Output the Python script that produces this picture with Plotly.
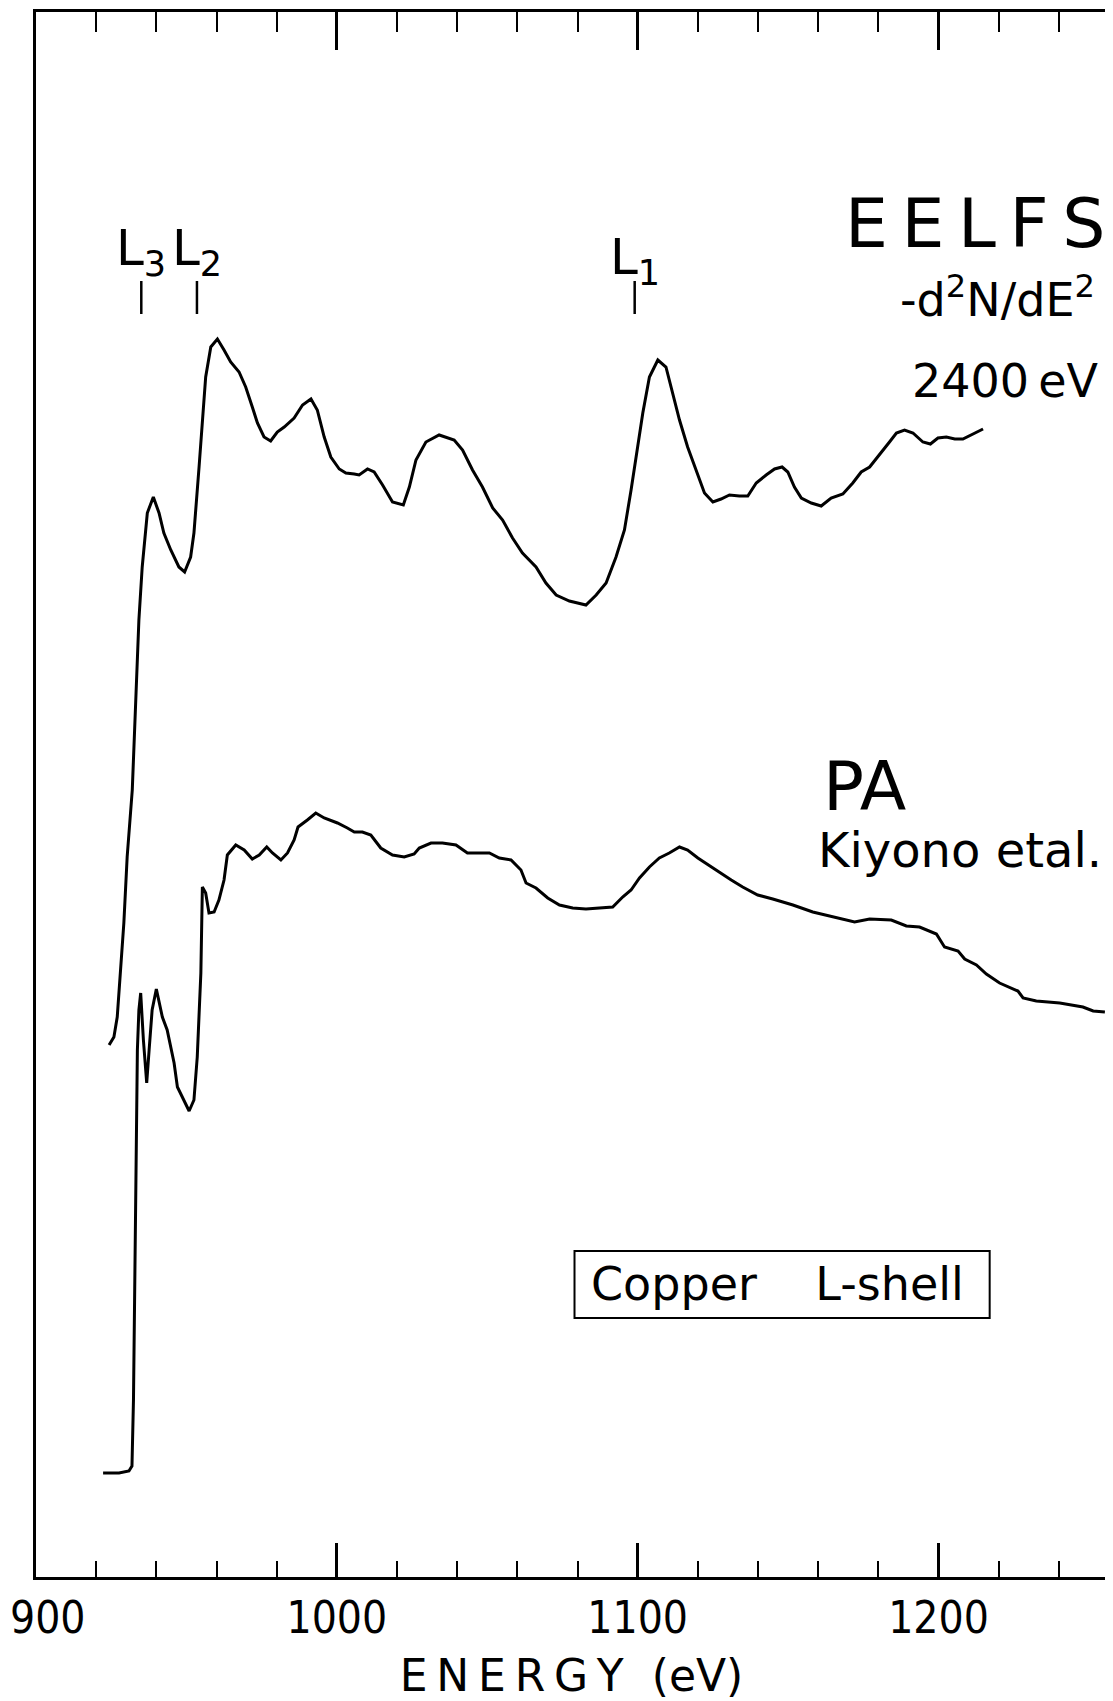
import plotly.graph_objects as go

# --- data (intensity in arbitrary units) ---

# EELFS, -d2N/dE2, 2400 eV primary energy
eelfs_energy = [924.3, 925.9, 927.0, 928.1, 929.2, 930.3, 931.5, 932.0, 933.1, 934.2,
                935.3, 937.0, 939.0, 940.9, 942.5, 944.8, 947.5, 949.4, 951.4, 952.5,
                954.2, 955.3, 956.4, 958.1, 960.3, 962.5, 964.7, 967.5, 969.7, 971.9,
                973.6, 975.8, 978.0, 980.2, 982.5, 985.8, 988.6, 991.4, 993.5, 995.8,
                998.0, 1000.8, 1003.0, 1005.8, 1007.4, 1010.2, 1012.4, 1015.2, 1018.5, 1022.1,
                1024.1, 1026.3, 1029.6, 1034.0, 1039.0, 1041.8, 1045.1, 1048.4, 1051.8, 1055.1,
                1058.4, 1061.7, 1066.2, 1069.5, 1072.9, 1077.3, 1082.8, 1086.2, 1089.5, 1092.8,
                1095.6, 1097.8, 1099.5, 1101.7, 1103.9, 1106.7, 1109.4, 1111.6, 1113.9, 1116.6,
                1119.4, 1122.2, 1125.0, 1127.7, 1130.5, 1133.8, 1136.6, 1139.4, 1142.7, 1145.5,
                1148.0, 1149.9, 1152.1, 1154.4, 1157.7, 1161.0, 1164.3, 1168.2, 1171.5, 1174.3,
                1177.1, 1180.4, 1183.7, 1186.0, 1188.7, 1191.5, 1194.8, 1197.3, 1199.8, 1202.6,
                1205.4, 1208.1, 1210.9, 1214.8]
eelfs_signal = [53.2, 54.0, 56.0, 60.4, 65.4, 72.0, 77.0, 78.7, 87.2, 95.7,
                101.0, 106.4, 108.0, 106.4, 104.4, 102.7, 101.0, 100.5, 102.0, 104.4,
                111.0, 116.0, 120.0, 123.0, 123.8, 122.7, 121.5, 120.5, 119.0, 117.0,
                115.4, 114.0, 113.6, 114.5, 115.0, 115.9, 117.2, 117.8, 116.7, 114.0,
                112.0, 110.8, 110.4, 110.3, 110.2, 110.8, 110.5, 109.2, 107.5, 107.2,
                109.0, 111.7, 113.5, 114.2, 113.7, 112.7, 110.7, 109.0, 106.9, 105.7,
                103.9, 102.4, 101.0, 99.4, 98.2, 97.6, 97.2, 98.2, 99.4, 102.0,
                104.7, 108.7, 112.0, 116.4, 120.0, 121.7, 121.0, 118.4, 115.7, 113.0,
                110.7, 108.4, 107.5, 107.8, 108.2, 108.1, 108.1, 109.4, 110.2, 110.8,
                111.0, 110.5, 109.0, 107.9, 107.4, 107.1, 107.9, 108.3, 109.4, 110.5,
                111.0, 112.2, 113.5, 114.4, 114.7, 114.4, 113.5, 113.3, 113.9, 114.0,
                113.8, 113.8, 114.2, 114.8]

# photoabsorption, Kiyono et al.
pa_energy = [922.3, 927.6, 930.9, 931.9, 932.4, 932.7, 933.0, 933.3, 933.7, 934.2,
             934.8, 935.7, 936.8, 937.6, 938.6, 940.0, 942.0, 943.6, 945.9, 947.0,
             948.6, 950.9, 952.5, 953.6, 954.8, 955.3, 956.4, 957.5, 959.2, 960.8,
             962.5, 963.6, 966.4, 969.2, 971.9, 974.2, 976.7, 978.6, 981.4, 983.6,
             985.8, 987.1, 990.2, 993.0, 995.8, 1000.2, 1003.5, 1005.8, 1008.5, 1011.3,
             1014.6, 1018.5, 1022.4, 1025.7, 1027.4, 1031.3, 1035.1, 1039.6, 1043.4, 1047.3,
             1050.7, 1054.0, 1057.9, 1061.2, 1062.9, 1066.2, 1070.1, 1074.0, 1078.4, 1082.8,
             1088.4, 1091.7, 1095.0, 1097.8, 1100.6, 1103.9, 1107.2, 1110.5, 1113.9, 1116.6,
             1120.0, 1123.9, 1127.2, 1131.1, 1134.9, 1139.9, 1144.9, 1151.6, 1158.2, 1164.9,
             1172.1, 1177.1, 1184.3, 1189.3, 1193.7, 1199.3, 1202.0, 1206.5, 1208.7, 1212.6,
             1215.9, 1220.3, 1226.4, 1228.1, 1232.5, 1240.3, 1248.0, 1251.4, 1255.3]
pa_signal = [10.4, 10.4, 10.6, 11.1, 17.7, 27.7, 37.7, 44.7, 52.7, 56.7,
             58.4, 53.7, 49.4, 52.7, 56.7, 58.8, 56.0, 54.7, 51.4, 49.0,
             48.0, 46.6, 47.7, 52.0, 60.4, 69.0, 68.4, 66.4, 66.5, 67.7,
             69.7, 72.2, 73.2, 72.7, 71.8, 72.2, 73.0, 72.4, 71.7, 72.4,
             73.7, 75.0, 75.7, 76.4, 75.9, 75.4, 74.9, 74.5, 74.5, 74.2,
             72.9, 72.2, 72.0, 72.3, 72.9, 73.4, 73.4, 73.2, 72.4, 72.4,
             72.4, 71.9, 71.7, 70.7, 69.4, 68.9, 67.9, 67.2, 66.9, 66.8,
             66.9, 67.0, 68.0, 68.7, 69.9, 71.0, 71.9, 72.4, 73.0, 72.7,
             71.9, 71.1, 70.5, 69.7, 69.0, 68.2, 67.8, 67.2, 66.5, 66.0,
             65.5, 65.8, 65.7, 65.1, 65.0, 64.3, 63.0, 62.6, 61.8, 61.2,
             60.3, 59.4, 58.6, 57.9, 57.6, 57.4, 57.0, 56.6, 56.5]

# Cu absorption edges marked above the EELFS curve
edge_names = ['L<sub>3</sub>', 'L<sub>2</sub>', 'L<sub>1</sub>']
edge_energy = [935.0, 953.5, 1099.0]

tick_values = [1000, 1100, 1200]
tick_text = ['1000', '1100', '1200']
edge_tick_text = '900'   # label at the left end of the axis

NARROW = 'Liberation Sans Narrow, DejaVu Sans Condensed, sans-serif'
SANS = 'DejaVu Sans, Liberation Sans, sans-serif'
THIN = '\u2009'
NB = '\u00a0'

fig = go.Figure()

fig.add_trace(go.Scatter(x=eelfs_energy, y=eelfs_signal, mode='lines',
                         line=dict(color='black', width=3), hoverinfo='skip'))
fig.add_trace(go.Scatter(x=pa_energy, y=pa_signal, mode='lines',
                         line=dict(color='black', width=3), hoverinfo='skip'))

# short vertical markers under the edge labels (drawn on the top axis)
mark_x, mark_y = [], []
for e in edge_energy:
    mark_x += [e, e, None]
    mark_y += [126.3, 129.6, None]
fig.add_trace(go.Scatter(x=mark_x, y=mark_y, mode='lines', xaxis='x2',
                         line=dict(color='black', width=2.5), hoverinfo='skip'))

label_y = [132.6, 132.6, 131.7]
for name, e, ly in zip(edge_names, edge_energy, label_y):
    fig.add_annotation(x=e, y=ly, text=name, showarrow=False, xanchor='center',
                       yanchor='middle', font=dict(family=SANS, size=50))

fig.add_annotation(x=1255.5, y=135.4, text=THIN.join('EELFS'), showarrow=False,
                   xanchor='right', yanchor='middle', borderpad=0,
                   font=dict(family=SANS, size=68))
fig.add_annotation(x=1252.5, y=128.0, text='-d<sup>2</sup>N/dE<sup>2</sup>', showarrow=False,
                   xanchor='right', yanchor='middle', borderpad=0,
                   font=dict(family=SANS, size=46))
fig.add_annotation(x=1254.0, y=119.6, text='2400' + THIN + 'eV', showarrow=False,
                   xanchor='right', yanchor='middle', font=dict(family=SANS, size=46))
fig.add_annotation(x=1160.8, y=79.1, text='PA', showarrow=False, xanchor='left',
                   yanchor='middle', font=dict(family=SANS, size=68))
fig.add_annotation(x=1159.4, y=72.7, text='Kiyono etal.', showarrow=False, xanchor='left',
                   yanchor='middle', font=dict(family=SANS, size=48))

# boxed caption
fig.add_shape(type='rect', x0=1079.0, x1=1217.0, y0=25.9, y1=32.6,
              line=dict(color='black', width=2))
fig.add_annotation(x=1146.5, y=29.3, text='Copper' + NB * 4 + 'L-shell', showarrow=False,
                   xanchor='center', yanchor='middle', font=dict(family=SANS, size=46))

# "900" sits on the left corner; kept inside the page as a separate label
fig.add_annotation(xref='paper', yref='paper', x=0, y=0, xanchor='left', yanchor='middle',
                   xshift=-28, yshift=-40, text=edge_tick_text, showarrow=False,
                   font=dict(family=NARROW, size=44))

# the page body has an 8 px margin, so the figure is 8 px smaller than the window
fig.update_layout(
    width=1105, height=1693,
    margin=dict(l=28, r=6, t=4, b=124, autoexpand=False),
    paper_bgcolor='white', plot_bgcolor='white',
    showlegend=False,
    font=dict(family=SANS, color='black'),
    xaxis=dict(
        range=[900, 1256], tickvals=tick_values, ticktext=tick_text,
        ticks='inside', ticklen=34, tickwidth=2.5, tickcolor='black',
        minor=dict(tick0=900, dtick=20, ticks='inside', ticklen=16,
                   tickwidth=2, tickcolor='black', showgrid=False),
        showline=True, linewidth=3, linecolor='black',
        showgrid=False, zeroline=False, automargin=False,
        tickfont=dict(family=NARROW, size=44), ticklabelstandoff=0,
        title=dict(text=THIN.join('ENERGY') + NB * 2 + '(eV)',
                   font=dict(family=SANS, size=44), standoff=25),
    ),
    xaxis2=dict(
        range=[900, 1256], overlaying='x', side='top', anchor='y',
        tickvals=tick_values, showticklabels=False, automargin=False,
        ticks='inside', ticklen=38, tickwidth=2.5, tickcolor='black',
        minor=dict(tick0=900, dtick=20, ticks='inside', ticklen=20,
                   tickwidth=2, tickcolor='black', showgrid=False),
        showline=True, linewidth=3, linecolor='black',
        showgrid=False, zeroline=False,
    ),
    yaxis=dict(
        range=[0, 156.5], showline=True, mirror=True, linewidth=2.5,
        linecolor='black', showticklabels=False, ticks='',
        showgrid=False, zeroline=False, automargin=False,
    ),
)

fig.write_html("out.html")
